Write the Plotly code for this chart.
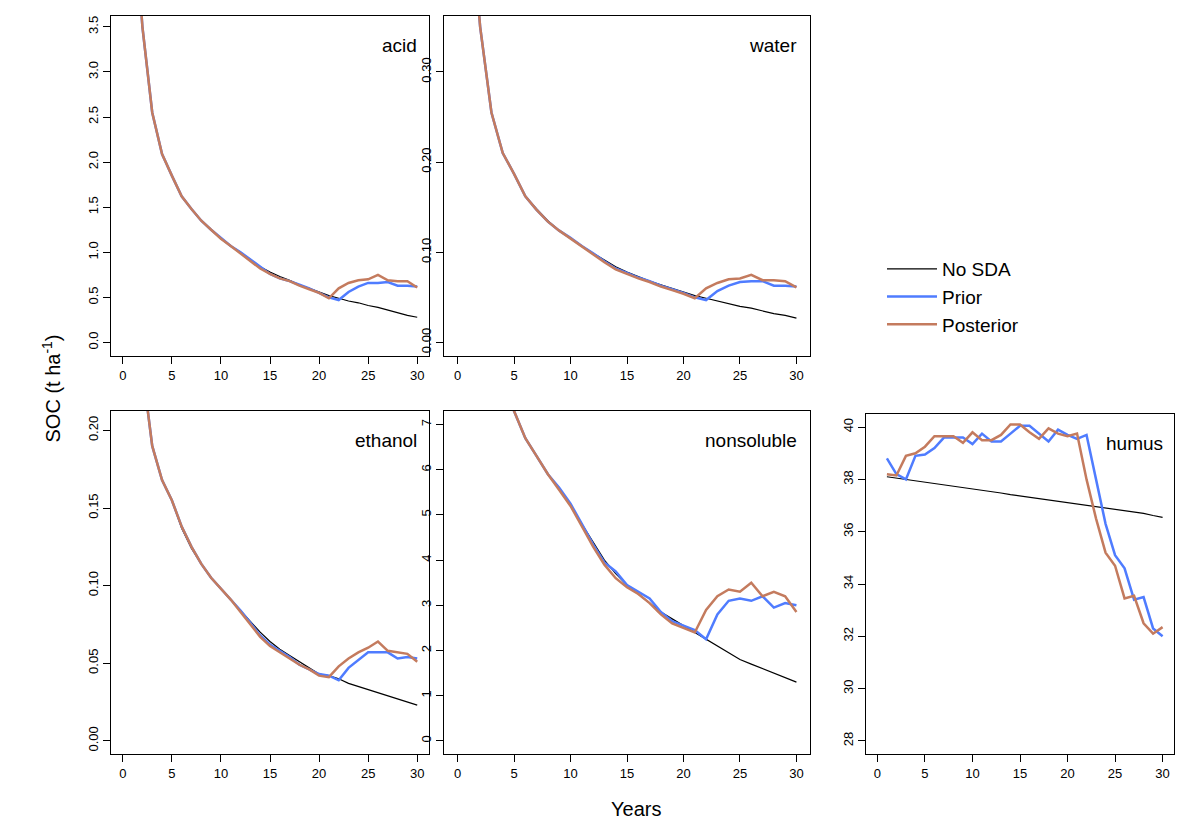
import plotly.graph_objects as go

YEARS = list(range(1, 31))

# acid
ACID_NOSDA = [5.0, 3.50, 2.55, 2.09, 1.85, 1.62, 1.48, 1.35, 1.25, 1.15, 1.07, 1.00, 0.92, 0.84, 0.78,
              0.73, 0.69, 0.64, 0.60, 0.56, 0.52, 0.49, 0.46, 0.44, 0.41, 0.39, 0.36, 0.33, 0.30, 0.28]
ACID_PRIOR = [5.0, 3.50, 2.55, 2.09, 1.85, 1.62, 1.48, 1.35, 1.25, 1.16, 1.07, 1.00, 0.92, 0.83, 0.76,
              0.71, 0.68, 0.64, 0.60, 0.55, 0.50, 0.47, 0.56, 0.62, 0.66, 0.66, 0.67, 0.63, 0.63, 0.62]
ACID_POST = [5.0, 3.50, 2.55, 2.09, 1.85, 1.62, 1.48, 1.35, 1.25, 1.15, 1.07, 0.99, 0.91, 0.82, 0.76,
             0.71, 0.68, 0.63, 0.59, 0.55, 0.49, 0.60, 0.66, 0.69, 0.70, 0.75, 0.69, 0.68, 0.68, 0.61]

# water
WATER_NOSDA = [0.50, 0.35, 0.255, 0.210, 0.187, 0.162, 0.148, 0.135, 0.124, 0.115, 0.107, 0.099, 0.091, 0.084, 0.078,
               0.073, 0.068, 0.064, 0.060, 0.056, 0.052, 0.049, 0.046, 0.043, 0.040, 0.038, 0.035, 0.032, 0.030, 0.027]
WATER_PRIOR = [0.50, 0.35, 0.255, 0.210, 0.187, 0.162, 0.147, 0.134, 0.124, 0.116, 0.107, 0.099, 0.090, 0.082, 0.077,
               0.072, 0.068, 0.063, 0.059, 0.055, 0.050, 0.047, 0.057, 0.063, 0.067, 0.068, 0.068, 0.063, 0.063, 0.062]
WATER_POST = [0.50, 0.35, 0.255, 0.210, 0.187, 0.162, 0.147, 0.134, 0.124, 0.115, 0.107, 0.098, 0.089, 0.081, 0.076,
              0.071, 0.067, 0.062, 0.058, 0.054, 0.049, 0.060, 0.066, 0.070, 0.071, 0.075, 0.069, 0.069, 0.068, 0.061]

# ethanol
ETH_NOSDA = [0.32, 0.24, 0.19, 0.168, 0.155, 0.137, 0.124, 0.114, 0.105, 0.098, 0.091, 0.084, 0.077, 0.070, 0.064,
             0.059, 0.055, 0.051, 0.047, 0.043, 0.042, 0.040, 0.037, 0.035, 0.033, 0.031, 0.029, 0.027, 0.025, 0.023]
ETH_PRIOR = [0.32, 0.24, 0.19, 0.168, 0.155, 0.138, 0.125, 0.114, 0.105, 0.098, 0.091, 0.084, 0.076, 0.068, 0.062,
             0.058, 0.054, 0.049, 0.046, 0.043, 0.042, 0.039, 0.047, 0.052, 0.057, 0.057, 0.057, 0.053, 0.054, 0.053]
ETH_POST = [0.32, 0.24, 0.19, 0.168, 0.155, 0.138, 0.125, 0.114, 0.105, 0.098, 0.091, 0.083, 0.075, 0.067, 0.061,
            0.057, 0.053, 0.049, 0.046, 0.042, 0.041, 0.048, 0.053, 0.057, 0.060, 0.064, 0.058, 0.057, 0.056, 0.051]

# nonsoluble
NONS_NOSDA = [12.0, 10.0, 8.8, 8.0, 7.3, 6.7, 6.3, 5.9, 5.6, 5.2, 4.8, 4.4, 4.0, 3.7, 3.45,
              3.25, 3.05, 2.85, 2.70, 2.55, 2.40, 2.25, 2.10, 1.95, 1.80, 1.70, 1.60, 1.50, 1.40, 1.30]
NONS_PRIOR = [12.0, 10.0, 8.8, 8.0, 7.3, 6.7, 6.3, 5.9, 5.6, 5.25, 4.8, 4.35, 3.95, 3.75, 3.45,
              3.3, 3.15, 2.85, 2.65, 2.55, 2.45, 2.25, 2.80, 3.10, 3.15, 3.10, 3.20, 2.95, 3.05, 3.00]
NONS_POST = [12.0, 10.0, 8.8, 8.0, 7.3, 6.7, 6.3, 5.9, 5.55, 5.2, 4.75, 4.3, 3.9, 3.6, 3.4,
             3.25, 3.05, 2.8, 2.6, 2.5, 2.40, 2.90, 3.20, 3.35, 3.30, 3.50, 3.20, 3.30, 3.20, 2.85]

# humus
HUM_NOSDA = [38.10, 38.05, 38.00, 37.95, 37.90, 37.85, 37.80, 37.74, 37.69, 37.64, 37.58, 37.53, 37.48, 37.42, 37.37,
             37.32, 37.26, 37.21, 37.16, 37.10, 37.05, 37.00, 36.95, 36.90, 36.85, 36.80, 36.75, 36.70, 36.62, 36.55]
HUM_PRIOR = [38.8, 38.2, 38.0, 38.9, 38.95, 39.2, 39.6, 39.6, 39.6, 39.35, 39.75, 39.45, 39.45, 39.75, 40.05,
             40.05, 39.75, 39.45, 39.9, 39.7, 39.55, 39.7, 38.0, 36.3, 35.1, 34.6, 33.4, 33.5, 32.3, 32.0]
HUM_POST = [38.2, 38.15, 38.9, 39.0, 39.25, 39.65, 39.65, 39.65, 39.4, 39.8, 39.5, 39.5, 39.7, 40.1, 40.1,
            39.8, 39.55, 39.95, 39.75, 39.65, 39.75, 38.0, 36.5, 35.2, 34.7, 33.45, 33.55, 32.5, 32.1, 32.35]

# figure kept a bit smaller than the window so nothing is cut off
W, H = 1184 - 16, 837 - 16
SHIFT = 4
FONT = "Liberation Sans, Arial, sans-serif"
COLORS = {"No SDA": "black", "Prior": "#4F7CFF", "Posterior": "#C47B5E"}
WIDTHS = {"No SDA": 1.2, "Prior": 2.5, "Posterior": 2.5}


def px(v, size):
    return (v - SHIFT) / size


# name, series, y range, y ticks, pixel box (left, right, top, bottom)
PANELS = [
    ("acid", (ACID_NOSDA, ACID_PRIOR, ACID_POST), [-0.15, 3.62],
     [0, 0.5, 1, 1.5, 2, 2.5, 3, 3.5], ["0.0", "0.5", "1.0", "1.5", "2.0", "2.5", "3.0", "3.5"], (107, 425, 12, 352)),
    ("water", (WATER_NOSDA, WATER_PRIOR, WATER_POST), [-0.015, 0.362],
     [0, 0.1, 0.2, 0.3], ["0.00", "0.10", "0.20", "0.30"], (440, 806, 12, 352)),
    ("ethanol", (ETH_NOSDA, ETH_PRIOR, ETH_POST), [-0.0085, 0.2125],
     [0, 0.05, 0.1, 0.15, 0.2], ["0.00", "0.05", "0.10", "0.15", "0.20"], (107, 425, 407, 750)),
    ("nonsoluble", (NONS_NOSDA, NONS_PRIOR, NONS_POST), [-0.29, 7.3],
     [0, 1, 2, 3, 4, 5, 6, 7], [str(v) for v in range(8)], (440, 806, 407, 750)),
    ("humus", (HUM_NOSDA, HUM_PRIOR, HUM_POST), [27.5, 40.5],
     [28, 30, 32, 34, 36, 38, 40], [str(v) for v in range(28, 41, 2)], (862, 1170, 410, 750)),
]

fig = go.Figure()
for i, (name, series, yr, yt, ytl, box) in enumerate(PANELS, start=1):
    l, r, t, b = box
    sfx = "" if i == 1 else str(i)
    for lab, ys in zip(["No SDA", "Prior", "Posterior"], series):
        fig.add_trace(go.Scatter(
            x=YEARS, y=ys, mode="lines", name=lab, showlegend=(i == 1),
            line=dict(color=COLORS[lab], width=WIDTHS[lab]),
            xaxis="x" + sfx, yaxis="y" + sfx,
        ))
    ax = dict(showgrid=False, zeroline=False, showline=True, mirror=True, linecolor="black",
              linewidth=1, ticks="outside", tickcolor="black", ticklen=7,
              tickfont=dict(family=FONT, size=13, color="black"))
    fig.update_layout(**{
        "xaxis" + sfx: dict(ax, domain=[px(l, W), min(px(r, W), 1)], range=[-1.2, 31.2], anchor="y" + sfx,
                            tickvals=[0, 5, 10, 15, 20, 25, 30]),
        "yaxis" + sfx: dict(ax, domain=[1 - px(b, H), 1 - px(t, H)], range=yr, anchor="x" + sfx,
                            tickvals=yt, ticktext=ytl, tickangle=-90),
    })
    fig.add_annotation(text=name, xref="x" + sfx + " domain", yref="y" + sfx + " domain",
                       x=0.97, y=0.95, xanchor="right", yanchor="top", showarrow=False,
                       font=dict(family=FONT, size=19, color="black"))

fig.add_annotation(text="SOC (t ha<sup>-1</sup>)", xref="paper", yref="paper",
                   x=px(32, W), y=1 - px(385, H),
                   textangle=-90, showarrow=False, font=dict(family=FONT, size=20, color="black"))
fig.add_annotation(text="Years", xref="paper", yref="paper", x=px(632, W), y=1 - px(818, H),
                   showarrow=False, font=dict(family=FONT, size=20, color="black"))

fig.update_layout(
    width=W, height=H, margin=dict(l=0, r=0, t=0, b=0),
    plot_bgcolor="white", paper_bgcolor="white",
    legend=dict(x=px(878, W), y=1 - px(246, H), xanchor="left", yanchor="top",
                font=dict(family=FONT, size=19, color="black"), tracegroupgap=0,
                bgcolor="rgba(0,0,0,0)", itemwidth=50),
)
fig.write_html("out.html")
